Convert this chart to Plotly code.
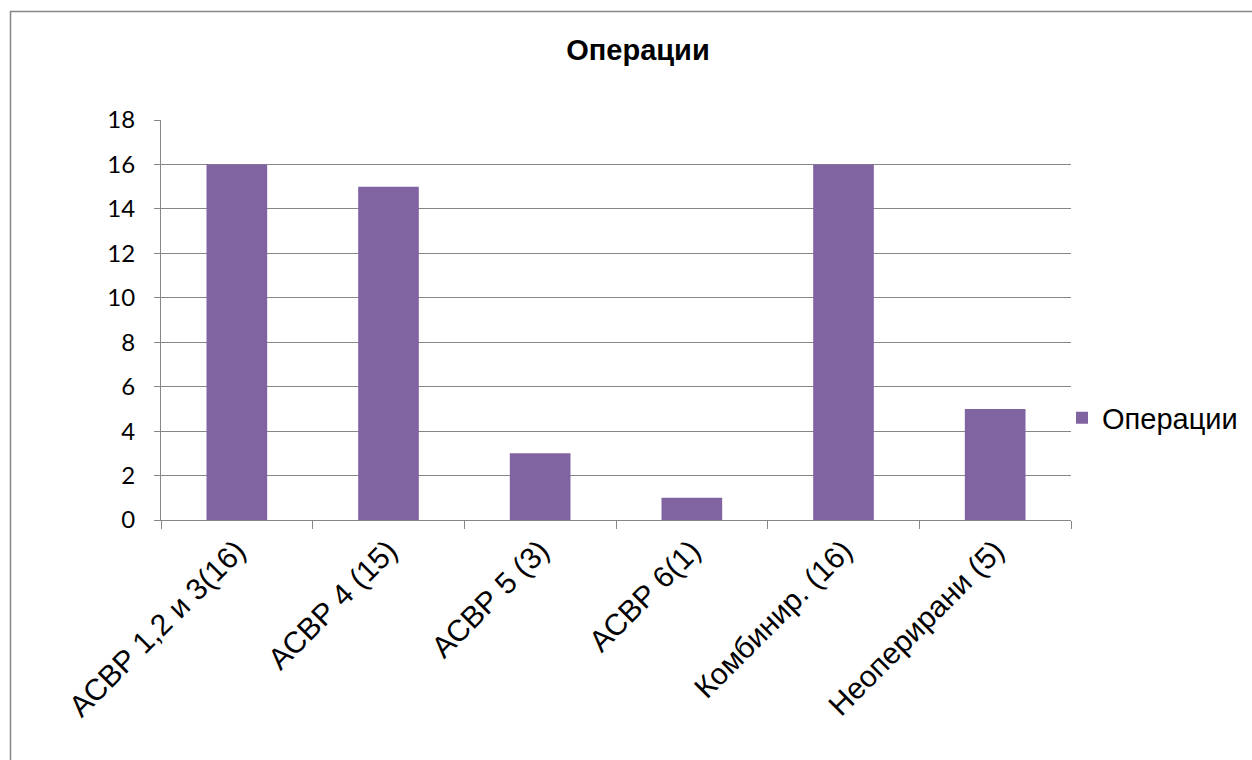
import plotly.graph_objects as go

categories = ["АСВР 1,2 и 3(16)", "АСВР 4 (15)", "АСВР 5 (3)", "АСВР 6(1)", "Комбинир. (16)", "Неоперирани (5)"]
values = [16, 15, 3, 1, 16, 5]
series_name = "Операции"
title_text = "Операции"

W, H = 1252, 760
L, R, T, B = 161, 181, 120, 240
pw, ph = W - L - R, H - T - B

def px_x(p):
    return (p - L) / pw

def px_y(p):
    return (H - B - p) / ph

grid = "#868686"
bar_color = "#8064A2"

fig = go.Figure()
fig.add_trace(go.Bar(x=categories, y=values, name=series_name, marker_color=bar_color,
                     marker_line_width=0, width=0.4, showlegend=True))

fig.update_layout(
    width=W, height=H,
    margin=dict(l=L, r=R, t=T, b=B, autoexpand=False),
    paper_bgcolor="white", plot_bgcolor="white",
    title=dict(text="<b>" + title_text + "</b>", x=638 / W, xref="container", xanchor="center",
               y=1 - 50 / H, yref="container", yanchor="middle",
               font=dict(family="Liberation Sans", size=29, color="black")),
    showlegend=True,
    legend=dict(x=px_x(1062), xanchor="left", y=px_y(418), yanchor="middle",
                font=dict(family="Liberation Sans", size=29, color="black"),
                bgcolor="rgba(0,0,0,0)", borderwidth=0),
    bargap=0.6,
    xaxis=dict(type="category", showline=True, linecolor=grid, linewidth=1,
               ticks="outside", tickson="boundaries", ticklen=8, tickcolor=grid,
               tickangle=-45, showgrid=False,
               tickfont=dict(family="Liberation Sans", size=30, color="black")),
    yaxis=dict(range=[0, 18], dtick=2, showline=True, linecolor=grid, linewidth=1,
               ticks="outside", ticklen=6, tickcolor=grid, showgrid=True, gridcolor=grid,
               gridwidth=1, zeroline=False, ticklabelstandoff=14,
               tickfont=dict(family="Lato", size=24, color="black")),
    shapes=[dict(type="rect", xref="paper", yref="paper",
                 x0=px_x(10.5), y0=px_y(800), x1=px_x(1300), y1=px_y(11.5),
                 line=dict(color=grid, width=1.5), fillcolor="rgba(0,0,0,0)", layer="below")],
)

fig.write_html("out.html")
